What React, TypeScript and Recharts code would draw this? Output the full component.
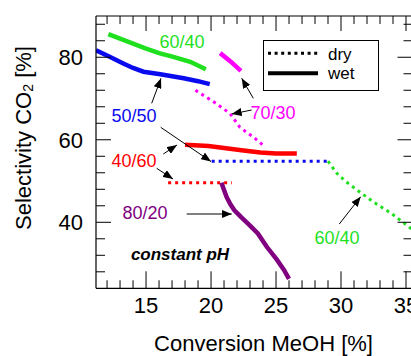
import React from 'react';
import { LineChart, Line, XAxis, YAxis } from 'recharts';

const FONT = '"Liberation Sans", Arial, Helvetica, sans-serif';

// conversion MeOH [%] (x) vs selectivity CO2 [%] (y)
const green6040WetX = [12.1, 13.5, 14.9, 16.0, 17.1, 18.4, 19.6];
const green6040WetY = [85.6, 83.9, 82.2, 81.0, 80.1, 78.9, 77.1];
const blue5050WetX = [11.15, 12.2, 13.25, 14.0, 14.8, 16.1, 17.0, 17.9, 19.0, 19.9];
const blue5050WetY = [81.7, 80.1, 78.5, 77.4, 76.5, 75.9, 75.4, 74.9, 74.2, 73.5];
const magenta7030WetX = [20.7, 21.5, 22.3];
const magenta7030WetY = [81.0, 79.0, 76.7];
const magenta7030DryX = [18.8, 20.2, 21.45, 22.2, 22.7, 23.25, 24.15];
const magenta7030DryY = [72.0, 69.2, 66.4, 63.1, 61.9, 60.7, 58.3];
const red4060WetX = [18.0, 19.8, 21.0, 22.5, 23.8, 25.0, 26.6];
const red4060WetY = [58.8, 58.5, 58.0, 57.4, 56.9, 56.7, 56.7];
const blue5050DryX = [20.05, 29.0];
const blue5050DryY = [54.8, 54.8];
const green6040DryX = [29.0, 29.7, 30.4, 31.2, 32.5, 33.9, 35.3, 35.8];
const green6040DryY = [54.8, 51.8, 49.8, 47.9, 44.9, 42.1, 38.7, 37.5];
const red4060DryX = [16.7, 21.6];
const red4060DryY = [49.6, 49.6];
const purple8020WetX = [20.8, 21.0, 21.2, 21.5, 21.8, 22.3, 23.0, 23.6, 24.3, 25.05, 25.6, 26.0];
const purple8020WetY = [49.6, 47.8, 46.1, 44.3, 42.9, 41.3, 39.2, 37.3, 34.0, 31.0, 28.5, 26.3];

const xTicks = [12, 13, 14, 15, 16, 17, 18, 19, 20, 21, 22, 23, 24, 25, 26, 27, 28, 29, 30, 31, 32, 33, 34, 35];
const yTicks = [28, 32, 36, 40, 44, 48, 52, 56, 60, 64, 68, 72, 76, 80, 84, 88];
const xMajor = [15, 20, 25, 30, 35];
const yMajor = [40, 60, 80];

const X_DOMAIN = [11.15, 35.5];
const Y_DOMAIN = [24, 90];

const GREEN = '#1ee01e';
const BLUE = '#0a0aee';
const RED = '#ff0000';
const MAGENTA = '#ff00ff';
const PURPLE = '#800080';

const pts = (xs: number[], ys: number[]) => xs.map((x, i) => ({ x, y: ys[i] }));

const series = [
  { key: 'g-wet', data: pts(green6040WetX, green6040WetY), color: GREEN, dry: false },
  { key: 'b-wet', data: pts(blue5050WetX, blue5050WetY), color: BLUE, dry: false },
  { key: 'm-wet', data: pts(magenta7030WetX, magenta7030WetY), color: MAGENTA, dry: false },
  { key: 'm-dry', data: pts(magenta7030DryX, magenta7030DryY), color: MAGENTA, dry: true },
  { key: 'r-wet', data: pts(red4060WetX, red4060WetY), color: RED, dry: false },
  { key: 'b-dry', data: pts(blue5050DryX, blue5050DryY), color: BLUE, dry: true },
  { key: 'g-dry', data: pts(green6040DryX, green6040DryY), color: GREEN, dry: true },
  { key: 'r-dry', data: pts(red4060DryX, red4060DryY), color: RED, dry: true },
  { key: 'p-wet', data: pts(purple8020WetX, purple8020WetY), color: PURPLE, dry: false },
];

const BottomTick = ({ x, y, payload }: any) => {
  const major = xMajor.includes(payload.value);
  return (
    <g>
      <line x1={x} x2={x} y1={y} y2={y - (major ? 17 : 8)} stroke="#000" strokeWidth={1} />
      {major && (
        <text x={x} y={y + 25} textAnchor="middle" fontSize={22} fontFamily={FONT} fill="#000">
          {payload.value}
        </text>
      )}
    </g>
  );
};

const TopTick = ({ x, y, payload }: any) => {
  const major = xMajor.includes(payload.value);
  return <line x1={x} x2={x} y1={y} y2={y + (major ? 15 : 8)} stroke="#000" strokeWidth={1} />;
};

const LeftTick = ({ x, y, payload }: any) => {
  const major = yMajor.includes(payload.value);
  return (
    <g>
      <line x1={x} x2={x + (major ? 15 : 9)} y1={y} y2={y} stroke="#000" strokeWidth={1} />
      {major && (
        <text x={x - 13} y={y + 8} textAnchor="end" fontSize={22} fontFamily={FONT} fill="#000">
          {payload.value}
        </text>
      )}
    </g>
  );
};

const RightTick = ({ x, y, payload }: any) => {
  const major = yMajor.includes(payload.value);
  return <line x1={x} x2={x - (major ? 15 : 9)} y1={y} y2={y} stroke="#000" strokeWidth={1} />;
};

const Arrow = ({ x1, y1, x2, y2 }: { x1: number; y1: number; x2: number; y2: number }) => (
  <line x1={x1} y1={y1} x2={x2} y2={y2} stroke="#000" strokeWidth={1} markerEnd="url(#arrowHead)" />
);

const Label = ({ x, y, color, children }: any) => (
  <text x={x} y={y} textAnchor="middle" dominantBaseline="central" fontSize={18} fontFamily={FONT} fill={color}>
    {children}
  </text>
);

const Annotations = () => (
  <svg width={411} height={356} style={{ position: 'absolute', left: 0, top: 0, pointerEvents: 'none' }}>
    <defs>
      <marker id="arrowHead" viewBox="0 0 10 8" refX={10} refY={4} markerWidth={10} markerHeight={8} markerUnits="userSpaceOnUse" orient="auto">
        <path d="M0,0 L10,4 L0,8 Z" fill="#000" />
      </marker>
    </defs>
    <Label x={182} y={42} color={GREEN}>60/40</Label>
    <Label x={134} y={116} color={BLUE}>50/50</Label>
    <Label x={134} y={161} color={RED}>40/60</Label>
    <Label x={273} y={113} color={MAGENTA}>70/30</Label>
    <Label x={145} y={213} color={PURPLE}>80/20</Label>
    <Label x={337} y={238} color={GREEN}>60/40</Label>
    <text x={180} y={254} textAnchor="middle" dominantBaseline="central" fontSize={17} fontWeight="bold" fontStyle="italic" fontFamily={FONT} fill="#000">
      constant pH
    </text>

    <Arrow x1={151.7} y1={103.3} x2={161} y2={78.3} />
    <Arrow x1={160.7} y1={127.3} x2={211} y2={161.5} />
    <Arrow x1={163.3} y1={154} x2={177} y2={145} />
    <Arrow x1={156.7} y1={168.3} x2={173} y2={179} />
    <Arrow x1={253.3} y1={98.3} x2={241.7} y2={78.3} />
    <Arrow x1={251.7} y1={110} x2={231.7} y2={114} />
    <Arrow x1={186.7} y1={214} x2={231.7} y2={214} />
    <Arrow x1={339.3} y1={224} x2={360.7} y2={196.7} />

    <rect x={263.5} y={40.5} width={115} height={50} fill="#fff" stroke="#000" strokeWidth={1} />
    <line x1={268} x2={318} y1={53.3} y2={53.3} stroke="#000" strokeWidth={3} strokeDasharray="3 3.6" />
    <line x1={268} x2={318} y1={73.3} y2={73.3} stroke="#000" strokeWidth={4} />
    <text x={328} y={54} dominantBaseline="central" fontSize={17} fontFamily={FONT} fill="#000">dry</text>
    <text x={328} y={73} dominantBaseline="central" fontSize={17} fontFamily={FONT} fill="#000">wet</text>

    <text x={263.5} y={343} textAnchor="middle" dominantBaseline="central" fontSize={22} fontFamily={FONT} fill="#000">
      Conversion MeOH [%]
    </text>
    <text x={23} y={138} textAnchor="middle" dominantBaseline="central" fontSize={22} fontFamily={FONT} fill="#000" transform="rotate(-90 23 138)">
      Selectivity CO<tspan fontSize={14} dy={5}>2</tspan><tspan dy={-5}> [%]</tspan>
    </text>
  </svg>
);

export default function App() {
  return (
    <div style={{ position: 'absolute', left: 0, top: 0, width: 411, height: 356, overflow: 'hidden', background: '#fff' }}>
      <LineChart width={422} height={356} margin={{ top: 15, left: 95, right: 8.5, bottom: 66.7 }}>
        <XAxis
          type="number"
          dataKey="x"
          domain={X_DOMAIN}
          allowDataOverflow
          ticks={xTicks}
          interval={0}
          height={1}
          tickSize={0}
          tickMargin={0}
          tickLine={false}
          tick={<BottomTick />}
          axisLine={{ stroke: '#000', strokeWidth: 1.2 }}
        />
        <XAxis
          xAxisId="top"
          orientation="top"
          type="number"
          dataKey="x"
          domain={X_DOMAIN}
          allowDataOverflow
          ticks={xTicks}
          interval={0}
          height={1}
          tickSize={0}
          tickMargin={0}
          tickLine={false}
          tick={<TopTick />}
          axisLine={{ stroke: '#000', strokeWidth: 1.2 }}
        />
        <YAxis
          type="number"
          dataKey="y"
          domain={Y_DOMAIN}
          allowDataOverflow
          ticks={yTicks}
          interval={0}
          width={1}
          tickSize={0}
          tickMargin={0}
          tickLine={false}
          tick={<LeftTick />}
          axisLine={{ stroke: '#000', strokeWidth: 1.2 }}
        />
        <YAxis
          yAxisId="right"
          orientation="right"
          type="number"
          dataKey="y"
          domain={Y_DOMAIN}
          allowDataOverflow
          ticks={yTicks}
          interval={0}
          width={1}
          tickSize={0}
          tickMargin={0}
          tickLine={false}
          tick={<RightTick />}
          axisLine={{ stroke: '#000', strokeWidth: 1.2 }}
        />
        {series.map((s) => (
          <Line
            key={s.key}
            data={s.data}
            dataKey="y"
            type="linear"
            stroke={s.color}
            strokeWidth={s.dry ? 3 : 4.5}
            strokeDasharray={s.dry ? '3 4' : undefined}
            dot={false}
            activeDot={false}
            isAnimationActive={false}
          />
        ))}
      </LineChart>
      <Annotations />
    </div>
  );
}
